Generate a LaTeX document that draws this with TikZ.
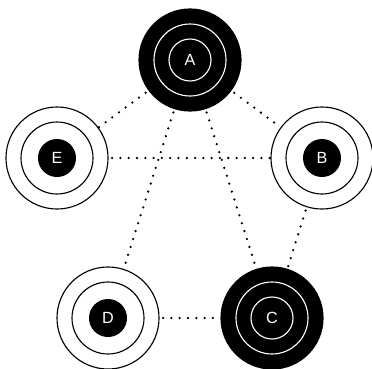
\documentclass[tikz,border=0pt]{standalone}
\usepackage{fontspec}
\setmainfont{Liberation Sans}
\begin{document}
\begin{tikzpicture}[x=0.025cm, y=-0.025cm,
    ring/.style={circle, draw, line width=0.8pt, inner sep=0pt, minimum size=2.55cm},
    hollow/.style={ring, fill=white},
    solid/.style={ring, fill=black},
    core/.style={circle, fill=black, inner sep=0pt, minimum size=0.95cm, text=white, font=\fontsize{11.5}{13}\selectfont},
    letter/.style={text=white, font=\fontsize{11.5}{13}\selectfont},
    link/.style={line width=1.8pt, line cap=round, dash pattern=on 0pt off 5.9pt, dash phase=-2.5pt}]
    \useasboundingbox (0,0) rectangle (372,368);

    % Outer rings
    \node[solid]  (A) at (190,60)  {};
    \node[hollow] (B) at (322,158) {};
    \node[solid]  (C) at (272,318) {};
    \node[hollow] (D) at (108,318) {};
    \node[hollow] (E) at (57,158)  {};

    % Dotted links
    \draw[link] (A) -- (E);
    \draw[link] (A) -- (B);
    \draw[link] (A) -- (D);
    \draw[link] (A) -- (C);
    \draw[link] (E) -- (B);
    \draw[link] (B) -- (C);
    \draw[link] (D) -- (C);

    % Inner rings
    \draw[white, line width=0.8pt] (A) circle (36) (A) circle (21);
    \draw[white, line width=0.8pt] (C) circle (36) (C) circle (21);
    \draw[line width=0.8pt] (B) circle (36) (D) circle (36) (E) circle (36);

    % Labels
    \node[letter] (Alabel) at (A) {A};
    \node[letter] (Clabel) at (C) {C};
    \node[core] (Bcore) at (B) {B};
    \node[core] (Dcore) at (D) {D};
    \node[core] (Ecore) at (E) {E};
\end{tikzpicture}
\end{document}
